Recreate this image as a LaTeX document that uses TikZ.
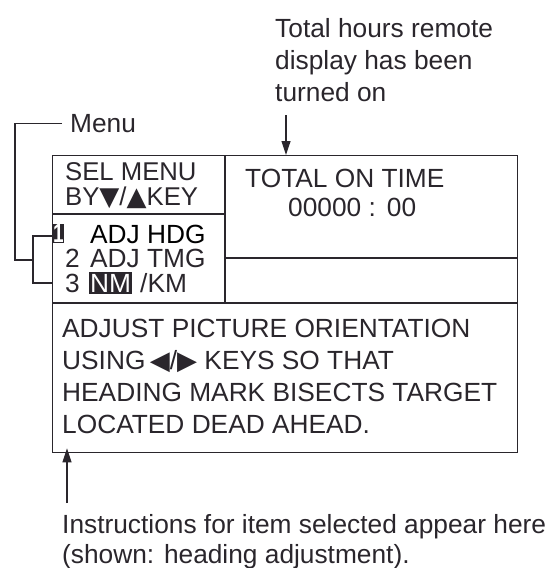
\documentclass[tikz,border=0pt]{standalone}
\usepackage{fontspec}
\setmainfont{Liberation Sans}
\newfontfamily\symfont{DejaVu Sans}
\usetikzlibrary{positioning, arrows.meta}
\definecolor{ink}{RGB}{42,38,44}
\newcommand{\dnkey}{{\symfont\fontsize{26}{26}\selectfont ▼}}
\newcommand{\upkey}{{\symfont\fontsize{26}{26}\selectfont ▲}}
\newcommand{\lfkey}{{\symfont\fontsize{26}{26}\selectfont ◀}}
\newcommand{\rtkey}{{\symfont\fontsize{26}{26}\selectfont ▶}}

\begin{document}
\begin{tikzpicture}[x=1pt, y=-1pt, font=\fontsize{26.3}{32}\selectfont,
  screen/.style={draw=ink, line width=1.3pt, minimum width=465pt, minimum height=297pt,
    anchor=north west, inner sep=0},
  rule/.style={draw=ink, line width=1.3pt},
  txt/.style={inner sep=0, anchor=base west, text=ink},
  para/.style={inner sep=0, anchor=north west, align=left, text=ink},
  hilite/.style={fill=ink, text=white, inner sep=0},
  callout/.style={-{Triangle[length=14pt, width=9pt]}, draw=ink, line width=1.2pt},
  brk/.style={draw=ink, line width=1.2pt}]
\useasboundingbox (0,0) rectangle (549,568);
% annotations
\node[para] (hrs) at (275,18.6) {Total hours remote\\display has been\\turned on};
\node[txt, anchor=west] (menu) at (70,123.5) {Menu};
% display
\node[screen] (screen) at (52,155) {};
\draw[rule] (225,155) -- (225,303);
\draw[rule] (52,303) -- (517,303);
\draw[rule] (52,214) -- (225,214);
\draw[rule] (225,258) -- (517,258);
% left cell: menu
\node[txt, font=\fontsize{25.7}{32}\selectfont] (sel) at (65,180) {SEL MENU};
\node[txt, font=\fontsize{25.7}{32}\selectfont] (by)  at (65,205) {BY\dnkey/\upkey KEY};
\node[hilite, minimum width=10pt, minimum height=19pt, anchor=north west] (one) at (53,224) {\scalebox{0.72}[1]{\bfseries 1}};
\node[txt, text=black] (hdg) at (90,243) {ADJ HDG};
\node[txt] (two) at (65,267) {2};
\node[txt] (tmg) at (90,267) {ADJ TMG};
\node[txt] (three) at (65,292) {3};
\node[hilite, minimum width=43pt, minimum height=22pt, anchor=north west] (nm) at (89,272) {NM};
\node[txt] (km) at (140,292) {/KM};
% right cell: total time
\node[txt] (tot) at (245,187) {TOTAL ON TIME};
\node[txt] (hrsval) at (288,216) {00000 :\hspace{11pt}00};
% bottom: instructions
\node[para] (instr) at (62,318.6) {ADJUST PICTURE ORIENTATION\\USING\,\lfkey/\rtkey\ KEYS SO THAT\\HEADING MARK BISECTS TARGET\\LOCATED DEAD AHEAD.};
\node[para, font=\fontsize{26.3}{30}\selectfont] (note) at (62,514.6) {Instructions for item selected appear here\\(shown: heading adjustment).};
% connectors
\coordinate (hrsfoot) at (286,115);
\coordinate (notefoot) at (67,503);
\coordinate (mcorner) at (15,123.5);
\coordinate (mjoin) at (33,260);
\coordinate (tick1) at (53,236);
\coordinate (tick3) at (53,283);
\draw[callout] (hrsfoot) -- (hrsfoot |- screen.north);
\draw[callout] (notefoot) -- ([yshift=5pt]notefoot |- screen.south);
\draw[brk] ([xshift=-8pt]menu.west) -- (mcorner) |- (mjoin);
\draw[brk] (tick1) -- (tick1 -| mjoin) -- (tick3 -| mjoin) -- (tick3);
\end{tikzpicture}
\end{document}
